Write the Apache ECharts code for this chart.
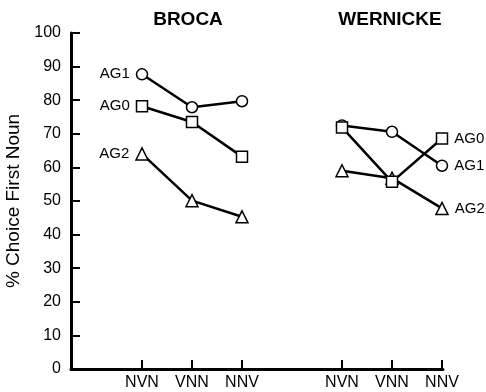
<!DOCTYPE html>
<html>
<head>
<meta charset="utf-8">
<script src="https://cdn.jsdelivr.net/npm/echarts@6/dist/echarts.min.js"></script>
<style>
  html, body { margin: 0; padding: 0; background: #fff; }
  #main { width: 486px; height: 392px; }
</style>
</head>
<body>
<div id="main"></div>
<script>
// 数据 ------------------------------------------------------------
var conditions = ['NVN', 'VNN', 'NNV'];
var brocaX = [1, 2, 3];
var wernickeX = [5, 6, 7];
var yTicks = [0, 10, 20, 30, 40, 50, 60, 70, 80, 90, 100];

var brocaAG0 = [78.2, 73.5, 63.2];
var brocaAG1 = [87.7, 77.9, 79.7];
var brocaAG2 = [64, 50.1, 45.3];

var wernickeAG0 = [71.9, 55.7, 68.6];
var wernickeAG1 = [72.5, 70.6, 60.5];
var wernickeAG2 = [59, 56.8, 47.8];

var font = 'Liberation Sans, Arial, sans-serif';

// 把数值和x位置组合起来, 在指定的点上加标签
function makeData(xs, ys, name, labelIdx, pos) {
    return ys.map(function (y, i) {
        var item = { value: [xs[i], y] };
        if (i === labelIdx) {
            item.label = {
                show: true,
                position: pos,
                distance: 6,
                formatter: name,
                color: '#000',
                fontSize: 15,
                fontFamily: font
            };
        }
        return item;
    });
}

function makeSeries(name, symbol, size, xs, ys, labelIdx, pos) {
    return {
        name: name,
        type: 'line',
        symbol: symbol,
        symbolSize: size,
        showAllSymbol: true,
        lineStyle: { color: '#000', width: 2.5 },
        itemStyle: { color: '#fff', borderColor: '#000', borderWidth: 1.5 },
        emphasis: { disabled: true },
        animation: false,
        data: makeData(xs, ys, name, labelIdx, pos)
    };
}

var myChart = echarts.init(document.getElementById('main'));

var option = {
    backgroundColor: '#fff',
    title: [
        { text: 'BROCA', left: 183, top: 5, textAlign: 'center',
          textStyle: { fontSize: 19, fontWeight: 'bold', color: '#000', fontFamily: font } },
        { text: 'WERNICKE', left: 385, top: 5, textAlign: 'center',
          textStyle: { fontSize: 19, fontWeight: 'bold', color: '#000', fontFamily: font } }
    ],
    grid: { left: 71, right: 43, top: 33, bottom: 23, containLabel: false, outerBoundsMode: 'none' },
    xAxis: {
        type: 'value',
        min: -0.42,
        max: 7.02,
        splitLine: { show: false },
        axisLine: { onZero: false, lineStyle: { color: '#000', width: 3 } },
        axisTick: {
            show: true,
            inside: true,
            length: 9,
            lineStyle: { color: '#000', width: 2 },
            customValues: brocaX.concat(wernickeX)
        },
        axisLabel: {
            show: true,
            color: '#000',
            fontSize: 16,
            fontFamily: font,
            margin: 6,
            customValues: brocaX.concat(wernickeX),
            formatter: function (v) {
                var i = brocaX.indexOf(v);
                if (i < 0) i = wernickeX.indexOf(v);
                return i < 0 ? '' : conditions[i];
            }
        }
    },
    yAxis: {
        type: 'value',
        min: 0,
        max: 100,
        interval: 10,
        name: '% Choice First Noun',
        nameLocation: 'middle',
        nameRotate: 90,
        nameGap: 42,
        nameTextStyle: { color: '#000', fontSize: 19, fontFamily: font },
        splitLine: { show: false },
        axisLine: { show: true, onZero: false, lineStyle: { color: '#000', width: 3 } },
        axisTick: { show: true, inside: true, length: 9, lineStyle: { color: '#000', width: 2 } },
        axisLabel: {
            color: '#000', fontSize: 16, fontFamily: font, margin: 10,
            formatter: function (v) { return yTicks.indexOf(v) >= 0 ? String(v) : ''; }
        }
    },
    series: [
        makeSeries('AG2', 'triangle', 12, brocaX, brocaAG2, 0, 'left'),
        makeSeries('AG1', 'circle', 11, brocaX, brocaAG1, 0, 'left'),
        makeSeries('AG0', 'rect', 11, brocaX, brocaAG0, 0, 'left'),
        makeSeries('AG2', 'triangle', 12, wernickeX, wernickeAG2, 2, 'right'),
        makeSeries('AG1', 'circle', 11, wernickeX, wernickeAG1, 2, 'right'),
        makeSeries('AG0', 'rect', 11, wernickeX, wernickeAG0, 2, 'right')
    ]
};

myChart.setOption(option);
</script>
</body>
</html>
